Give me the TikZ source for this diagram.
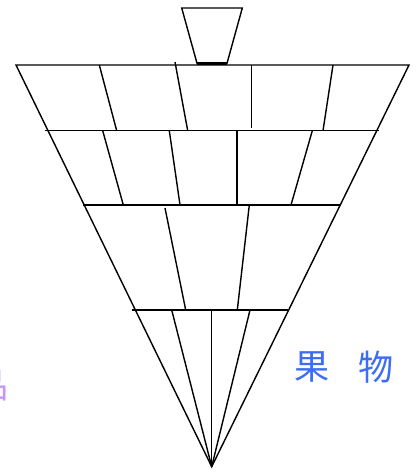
\documentclass[tikz,border=0pt]{standalone}
\usepackage{fontspec}
\newfontfamily\cjk{Noto Sans CJK SC}
\usetikzlibrary{positioning}
\definecolor{fruitblue}{RGB}{61,108,245}
\definecolor{lilac}{RGB}{200,150,250}

\begin{document}
\begin{tikzpicture}[x=0.02cm, y=-0.02cm, line width=0.8pt, line join=miter,
  cjklabel/.style={font=\cjk\fontsize{20}{24}\selectfont, inner sep=0pt}]
\useasboundingbox (0,0) rectangle (417,475);
\coordinate (tl) at (16,65);
\coordinate (tr) at (409,65);
\coordinate (apex) at (211.7,466.7);
% cup on top
\draw (181.7,8) -- (242.3,8) -- (227,63.3) -- (197,63.3) -- cycle;
\draw[line width=1.6pt] (197,63.3) -- (227,63.3);
% cone
\draw (tl) -- (tr) -- (apex) -- cycle;
\foreach \y/\a/\b in {130.7/45/379, 205/83/340, 310/131.7/288.3}
  \draw (\a,\y) -- (\b,\y);
\foreach \xa/\ya/\xb/\yb in {99.3/65/116.7/130.7, 175/62/187.7/130.7, 251.7/65/251.7/128,
    333/65/323/130.7, 102.7/130.7/123.3/205, 169.3/130.7/180/205, 237/130.7/237/205,
    312.3/130.7/291/205, 165/208/185.7/310, 249.3/205/237.3/310}
  \draw (\xa,\ya) -- (\xb,\yb);
\foreach \x in {171.7,211.7,250}
  \draw (\x,310) -- (apex);
% labels
\node[cjklabel, text=fruitblue] (guo) at (312.5,367) {果};
\node[cjklabel, text=fruitblue, right=0.54cm of guo] (wu) {物};
\node[cjklabel, text=lilac, anchor=east] (pin) at (9.5,386) {品};
\end{tikzpicture}
\end{document}
